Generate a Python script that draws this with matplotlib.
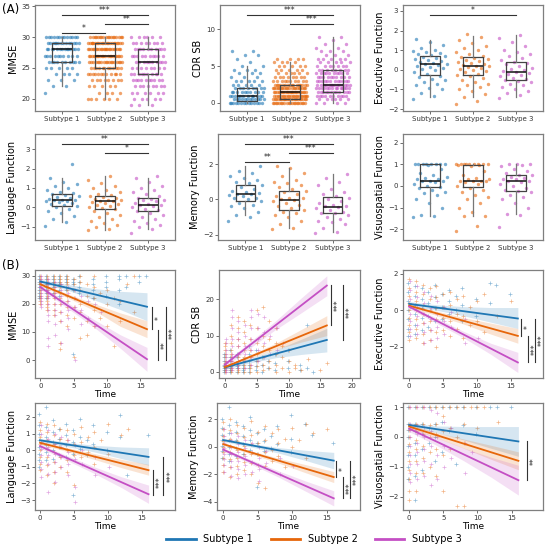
import numpy as np
import matplotlib.pyplot as plt
from matplotlib.lines import Line2D

subtypes = ["Subtype 1", "Subtype 2", "Subtype 3"]
colors = ["#1f77b4", "#e6660a", "#c44fc4"]

# ---------------- (A) baseline values ----------------
# MMSE: integer scores 19..30, number of subjects per score
mmse_levels = [19, 20, 21, 22, 23, 24, 25, 26, 27, 28, 29, 30]
mmse_counts = [
    [0, 0, 1, 2, 3, 4, 5, 10, 10, 14, 14, 13],
    [0, 6, 4, 5, 8, 12, 12, 18, 20, 22, 22, 18],
    [3, 5, 6, 8, 10, 10, 8, 10, 10, 10, 8, 6],
]
# CDR SB: half-point scores 0..9
cdr_levels = [0, 0.5, 1, 1.5, 2, 2.5, 3, 3.5, 4, 4.5, 5, 5.5, 6, 6.5, 7, 7.5, 8, 8.5, 9]
cdr_counts = [
    [14, 12, 12, 10, 8, 5, 5, 3, 3, 3, 2, 1, 1, 2, 2, 0, 0, 0, 0],
    [20, 22, 22, 22, 20, 16, 10, 8, 6, 5, 5, 4, 4, 0, 0, 0, 0, 0, 0],
    [4, 6, 10, 12, 14, 14, 12, 10, 10, 8, 7, 5, 5, 3, 3, 2, 2, 1, 2],
]
exec_a = [
    [-1.5, -1.35, -1.2, -1.0, -0.95, -0.8, -0.7, -0.6, -0.5, -0.45, -0.35, -0.3, -0.2, -0.1,
     0.0, 0.05, 0.1, 0.15, 0.2, 0.25, 0.3, 0.3, 0.35, 0.4, 0.45, 0.5, 0.55, 0.6, 0.65, 0.7,
     0.75, 0.8, 0.85, 0.9, 0.95, 1.0, 1.1, 1.25, 1.4, 1.55],
    [-1.75, -1.6, -1.4, -1.25, -1.1, -1.0, -0.9, -0.8, -0.7, -0.6, -0.5, -0.4, -0.3, -0.25,
     -0.2, -0.1, -0.05, 0.0, 0.05, 0.1, 0.15, 0.2, 0.2, 0.25, 0.3, 0.35, 0.4, 0.45, 0.5,
     0.55, 0.6, 0.65, 0.7, 0.8, 0.9, 1.0, 1.1, 1.2, 1.35, 1.5, 1.65, 1.8],
    [-1.45, -1.3, -1.2, -1.1, -1.0, -0.9, -0.8, -0.7, -0.6, -0.55, -0.5, -0.45, -0.4, -0.3,
     -0.25, -0.2, -0.15, -0.1, -0.05, 0.0, 0.05, 0.1, 0.2, 0.3, 0.35, 0.4, 0.5, 0.6, 0.7,
     0.8, 0.9, 1.0, 1.2, 1.4, 1.6, 1.75],
]
lang_a = [
    [-0.95, -0.75, -0.6, -0.45, -0.3, -0.2, -0.1, 0.0, 0.05, 0.1, 0.15, 0.2, 0.25, 0.3, 0.3,
     0.35, 0.35, 0.4, 0.45, 0.5, 0.55, 0.6, 0.65, 0.7, 0.75, 0.8, 0.9, 1.0, 1.1, 1.2, 1.3,
     1.5, 2.25],
    [-1.2, -1.15, -1.0, -0.9, -0.8, -0.7, -0.6, -0.5, -0.4, -0.3, -0.2, -0.1, -0.05, 0.0,
     0.05, 0.1, 0.15, 0.2, 0.25, 0.3, 0.3, 0.35, 0.4, 0.45, 0.5, 0.55, 0.6, 0.65, 0.7, 0.8,
     0.9, 1.0, 1.1, 1.25, 1.4, 1.6],
    [-1.35, -1.15, -1.0, -0.9, -0.8, -0.7, -0.6, -0.5, -0.4, -0.3, -0.2, -0.15, -0.1, 0.0,
     0.05, 0.1, 0.1, 0.15, 0.2, 0.3, 0.35, 0.4, 0.45, 0.5, 0.6, 0.7, 0.8, 0.9, 1.0, 1.1,
     1.3, 1.5, 1.6],
]
mem_a = [
    [-1.2, -1.0, -0.9, -0.7, -0.5, -0.4, -0.3, -0.2, -0.1, 0.0, 0.05, 0.1, 0.2, 0.25, 0.3,
     0.3, 0.35, 0.4, 0.5, 0.6, 0.7, 0.8, 0.9, 1.0, 1.1, 1.2, 1.3, 1.5, 1.6, 1.9],
    [-1.7, -1.6, -1.4, -1.2, -1.0, -0.9, -0.8, -0.7, -0.6, -0.5, -0.4, -0.3, -0.2, -0.1,
     -0.05, 0.0, 0.05, 0.1, 0.2, 0.3, 0.4, 0.5, 0.6, 0.7, 0.8, 0.9, 1.0, 1.1, 1.3, 1.5,
     1.8, 1.9],
    [-1.9, -1.85, -1.6, -1.4, -1.3, -1.2, -1.1, -1.0, -0.9, -0.8, -0.75, -0.7, -0.6, -0.5,
     -0.45, -0.4, -0.35, -0.3, -0.2, -0.1, 0.0, 0.1, 0.2, 0.3, 0.4, 0.6, 0.8, 1.0, 1.2, 1.45],
]
visuo_a = [
    [-1.45, -1.4, -1.35, -1.0, -0.8, -0.6, -0.4, -0.35, -0.3, -0.2, -0.1, -0.05, 0.0, 0.1,
     0.2, 0.25, 0.25, 0.25, 0.3, 0.3, 0.35, 0.4, 0.5, 0.6, 0.8, 0.95, 1.0, 1.0, 1.0, 1.0,
     1.0, 1.0, 1.0, 1.0],
    [-2.1, -1.85, -1.4, -1.4, -1.2, -1.0, -0.8, -0.6, -0.5, -0.4, -0.3, -0.2, -0.1, 0.0,
     0.1, 0.2, 0.25, 0.25, 0.25, 0.25, 0.3, 0.3, 0.35, 0.5, 0.7, 0.9, 0.95, 0.95, 1.0, 1.0,
     1.0, 1.0, 1.0, 1.0, 1.0, 1.0, 1.0],
    [-1.9, -1.35, -1.3, -1.0, -0.8, -0.6, -0.5, -0.4, -0.3, -0.25, -0.2, -0.1, 0.0, 0.1,
     0.2, 0.25, 0.25, 0.3, 0.3, 0.35, 0.4, 0.5, 0.5, 0.6, 0.7, 0.8, 0.9, 0.95, 1.0, 1.0, 1.0],
]

# box stats: (whisker low, q1, median, q3, whisker high)
box_mmse = [(22, 26, 28, 29, 30), (20, 25, 27, 29, 30), (19, 24, 26, 28, 30)]
box_cdr = [(0, 0.2, 1.0, 2.0, 5.0), (0, 0.5, 1.5, 2.5, 5.5), (0, 1.5, 2.5, 4.5, 9.0)]
box_exec = [(-1.4, -0.25, 0.3, 0.7, 1.5), (-1.4, -0.25, 0.2, 0.65, 1.7), (-1.4, -0.5, -0.1, 0.4, 1.75)]
box_lang = [(-0.75, 0.05, 0.35, 0.7, 1.5), (-1.2, -0.1, 0.3, 0.6, 1.6), (-1.15, -0.2, 0.1, 0.5, 1.5)]
box_mem = [(-0.9, -0.1, 0.3, 0.8, 1.9), (-1.6, -0.6, -0.05, 0.5, 1.8), (-1.85, -0.8, -0.45, 0.15, 1.45)]
box_visuo = [(-1.4, -0.05, 0.25, 1.0, 1.0), (-1.4, -0.05, 0.25, 0.95, 1.0), (-1.3, -0.25, 0.25, 0.5, 1.0)]

# significance brackets: (group i, group j, height, label)
sig_mmse = [(0, 2, 33.5, "***"), (1, 2, 32.05, "**"), (0, 1, 30.6, "*")]
sig_cdr = [(0, 2, 11.88, "***"), (1, 2, 10.67, "***")]
sig_exec = [(0, 2, 2.8, "*")]
sig_lang = [(0, 2, 3.26, "**"), (1, 2, 2.79, "*")]
sig_mem = [(0, 2, 3.11, "***"), (1, 2, 2.6, "***"), (0, 1, 2.13, "**")]
sig_visuo = []

# ---------------- (B) longitudinal values: {time: [scores]} ----------------
mmse_b = [
    {0: [30, 29, 28, 27, 26, 25, 24, 23, 22], 1: [30, 29, 28, 27, 26, 25, 24, 22],
     2: [30, 29, 28, 27, 26, 24], 3: [30, 29, 28, 27, 25, 23], 4: [30, 29, 28, 26, 25],
     5: [29, 28, 27, 25, 2], 6: [30, 28, 26, 24], 8: [29, 27, 25, 22], 10: [30, 28, 26, 23],
     12: [30, 29, 25, 20], 13: [30, 26], 15: [30, 28], 16: [30]},
    {0: [30, 29, 28, 27, 26, 25, 24, 23, 22, 21, 20], 1: [30, 29, 28, 27, 26, 25, 24, 23, 22, 21, 20, 19, 18],
     2: [30, 29, 28, 27, 26, 25, 24, 23, 22, 20, 18, 16], 3: [30, 29, 28, 27, 26, 24, 22, 20, 17, 14, 6, 4],
     4: [30, 29, 28, 27, 25, 23, 21, 19, 16, 12], 5: [29, 27, 25, 22, 19, 15, 1],
     6: [30, 28, 25, 20, 17, 8], 7: [27, 23, 14, 9], 8: [30, 26, 22, 18, 12], 9: [24, 15],
     10: [25, 20, 12], 11: [22, 5], 12: [21, 14], 13: [27], 14: [30, 17]},
    {0: [30, 29, 28, 27, 26, 25, 24, 23, 22, 21, 20, 19], 1: [29, 28, 27, 26, 25, 24, 23, 22, 20, 18, 16, 14, 8, 5],
     2: [28, 26, 24, 22, 20, 18, 16, 13, 9], 3: [27, 25, 23, 20, 17, 14, 6],
     4: [26, 24, 21, 18, 15, 11], 5: [25, 22, 19, 0], 6: [23, 18, 13], 7: [21, 15], 8: [20, 12], 9: [17]},
]
cdr_b = [
    {0: [0, 0.5, 1, 1.5, 2, 3, 4, 5], 1: [0, 0.5, 1, 2, 3, 4, 6], 2: [0, 1, 1.5, 2.5, 4, 5],
     3: [0, 0.5, 1, 2, 3.5], 4: [0, 1, 2, 3, 5, 7], 5: [0.5, 1.5, 3, 6], 6: [0, 2, 4],
     7: [1, 3], 8: [0.5, 2.5, 5], 10: [1, 3, 6], 12: [0.5, 2], 13: [13, 1], 14: [0]},
    {0: [0, 0.5, 1, 1.5, 2, 2.5, 3, 4, 5, 6, 7, 8], 1: [0, 0.5, 1, 1.5, 2, 3, 4, 5, 6, 8, 10, 13],
     2: [0, 0.5, 1, 2, 3, 4, 5, 7, 9, 12, 15], 3: [0, 1, 2, 3, 4, 6, 8, 11, 14],
     4: [0, 1, 2, 4, 6, 9, 13], 5: [0, 1.5, 3, 5, 8, 12, 17], 6: [0.5, 2, 4, 7, 10, 18],
     7: [1, 3, 6, 9, 14], 8: [0, 2, 5, 8, 12], 9: [1, 4, 7], 10: [0, 3, 6], 11: [1, 2],
     12: [0.5], 13: [3.5], 15: [0.5], 16: [2.5]},
    {0: [0, 0.5, 1, 1.5, 2, 2.5, 3, 4, 5, 6, 8, 9], 1: [0.5, 1, 2, 3, 4, 5, 7, 9, 12, 15, 17],
     2: [1, 2, 3, 5, 7, 9, 11, 14], 3: [1, 3, 5, 7, 10, 13], 4: [2, 4, 6, 9, 12, 15, 17],
     5: [3, 6, 9, 12, 16], 6: [4, 8, 11, 15], 7: [5, 10], 8: [6, 12], 9: [8]},
]
exec_b = [
    {0: [1.5, 1.0, 0.5, 0.0, -0.5, -1.0, -1.4], 1: [1.3, 0.8, 0.3, -0.2, -0.8, -1.3],
     2: [1.2, 0.6, 0.1, -0.4, -1.1], 3: [1.0, 0.4, -0.3, -0.9], 4: [1.4, 0.7, 0.1, -0.6],
     5: [0.9, 0.2, -0.5], 6: [1.1, 0.5, -0.2], 7: [0.8, 0.0], 8: [1.2, 0.3, -0.6],
     10: [0.6, -0.3], 12: [1.5, 0.4], 13: [1.4], 15: [0.9]},
    {0: [1.7, 1.2, 0.8, 0.4, 0.0, -0.4, -0.8, -1.2, -1.6], 1: [1.6, 1.0, 0.5, 0.0, -0.5, -1.0, -1.5],
     2: [1.4, 0.9, 0.3, -0.2, -0.7, -1.3, -1.8], 3: [1.2, 0.6, 0.0, -0.6, -1.1, -1.6],
     4: [1.3, 0.7, 0.1, -0.5, -1.2, -2.0], 5: [0.9, 0.2, -0.4, -1.1], 6: [1.0, 0.3, -0.6, -1.4],
     7: [0.6, -0.2, -1.0], 8: [0.8, -0.3, -1.5], 9: [0.2, -0.8], 10: [0.5, -0.6],
     11: [0.9, -1.2], 13: [-0.3], 15: [0.5]},
    {0: [1.6, 1.1, 0.6, 0.2, -0.2, -0.6, -1.0, -1.4], 1: [1.3, 0.7, 0.2, -0.3, -0.8, -1.3],
     2: [1.0, 0.4, -0.2, -0.7, -1.2, -1.8], 3: [0.8, 0.1, -0.5, -1.1, -1.6],
     4: [0.5, -0.2, -0.9, -1.5], 5: [0.2, -0.6, -1.3], 6: [-0.1, -0.9], 8: [-0.5, -1.8], 10: [-1.5]},
]
lang_b = [
    {0: [2.2, 1.5, 1.0, 0.6, 0.2, -0.2, -0.6, -1.0], 1: [2.6, 1.4, 0.8, 0.3, -0.1, -0.6],
     2: [1.8, 1.1, 0.5, 0.0, -0.5], 3: [1.3, 0.7, 0.2, -0.3], 4: [1.6, 0.9, 0.3, -0.4],
     5: [1.2, 0.5, -0.2, -2.7], 6: [1.9, 0.8, 0.1], 7: [0.6, -0.3], 8: [1.5, 0.4],
     10: [1.1, 0.0], 12: [2.1, 0.8], 13: [-1.5], 16: [0.9]},
    {0: [1.7, 1.2, 0.8, 0.4, 0.0, -0.4, -0.8, -1.2], 1: [1.6, 1.1, 0.6, 0.1, -0.4, -0.9, -1.5],
     2: [1.5, 0.9, 0.4, -0.1, -0.7, -1.3, -2.0], 3: [1.3, 0.7, 0.2, -0.4, -1.0],
     4: [1.2, 0.6, 0.0, -0.6, -1.3], 5: [1.0, 0.4, -0.3, -2.1], 6: [1.4, 0.5, -0.4],
     7: [0.8, -0.1], 8: [1.1, 0.2, -0.8], 9: [0.6], 10: [1.6, -0.2], 12: [0.9], 13: [1.3]},
    {0: [1.5, 1.0, 0.5, 0.1, -0.3, -0.7, -1.1, -1.6], 1: [1.2, 0.7, 0.2, -0.3, -0.8, -1.4, -2.5],
     2: [1.0, 0.4, -0.2, -0.7, -1.3, -1.9], 3: [0.8, 0.2, -0.4, -1.0], 4: [0.6, -0.1, -0.8, -1.5],
     5: [0.3, -0.5, -3.1, -2.2], 6: [0.0, -0.8], 8: [-0.4, -1.5], 10: [-1.0]},
]
mem_b = [
    {0: [2.0, 1.4, 0.9, 0.5, 0.1, -0.3, -0.8], 1: [2.9, 1.6, 1.0, 0.5, 0.0, -0.5, -1.0],
     2: [1.8, 1.1, 0.5, -0.1, -0.7], 3: [1.5, 0.8, 0.2, -0.5], 4: [2.2, 1.2, 0.5, -0.2],
     5: [1.0, 0.3, -0.5, -2.9], 6: [1.3, 0.4, -0.3], 7: [0.8, -0.1], 8: [1.5, 0.2],
     10: [2.3, 0.6, -0.4], 12: [1.7], 13: [0.9], 16: [0.3]},
    {0: [1.8, 1.3, 0.8, 0.4, 0.0, -0.4, -0.8, -1.3, -1.8], 1: [2.0, 1.2, 0.6, 0.1, -0.4, -0.9, -1.5, -2.2],
     2: [1.6, 1.0, 0.4, -0.2, -0.8, -1.4, -2.0], 3: [1.4, 0.7, 0.1, -0.5, -1.1, -1.7],
     4: [1.9, 0.9, 0.2, -0.5, -1.2, -2.0], 5: [1.1, 0.3, -0.5, -1.3, -2.6],
     6: [1.5, 0.5, -0.4, -1.4, -3.0], 7: [1.0, -0.2, -1.0], 8: [1.3, 0.3, -0.7], 9: [0.6, -1.5],
     10: [1.4, 0.0], 11: [0.5], 12: [1.7, -0.8], 13: [1.0], 15: [1.3]},
    {0: [1.3, 0.8, 0.3, -0.1, -0.5, -0.9, -1.3, -1.8], 1: [1.0, 0.5, 0.0, -0.5, -1.0, -1.5, -2.1],
     2: [0.8, 0.2, -0.4, -1.0, -1.6, -2.3], 3: [0.5, -0.1, -0.7, -1.3, -2.0],
     4: [0.3, -0.4, -1.1, -1.8], 5: [0.0, -0.8, -1.6, -2.5], 6: [-0.3, -1.2], 8: [-0.8, -2.0], 10: [-1.4]},
]
visuo_b = [
    {0: [1.0, 0.45, 0.25, 0.0, -0.3, -0.6, -1.0, -1.4], 1: [1.0, 0.45, 0.2, -0.2, -0.6, -1.3, -2.1],
     2: [1.0, 0.45, 0.1, -0.4, -1.1], 3: [1.0, 0.3, -0.2], 4: [1.0, 0.45, 0.0, -0.8],
     5: [1.0, 0.5, -0.5], 6: [1.0, 0.2], 7: [1.0, -0.9], 8: [1.0, 0.4], 10: [1.0, 0.1],
     12: [1.0], 13: [1.0], 15: [1.0]},
    {0: [1.0, 0.45, 0.25, 0.0, -0.25, -0.5, -0.8, -1.1, -1.4, -1.8, -2.1],
     1: [1.0, 0.45, 0.2, -0.1, -0.4, -0.8, -1.2, -1.8], 2: [1.0, 0.45, 0.1, -0.3, -0.7, -1.2],
     3: [1.0, 0.4, 0.0, -0.5, -1.0], 4: [1.0, 0.45, 0.1, -0.4, -1.3], 5: [1.0, 0.7, 0.2, -0.6, -1.8],
     6: [1.0, 0.3, -0.4], 7: [1.0, 0.0, -2.3], 8: [1.0, 0.45, -0.2, -2.3], 9: [1.0],
     10: [1.0, 0.3], 11: [1.0], 13: [0.5]},
    {0: [1.0, 0.45, 0.25, 0.0, -0.3, -0.6, -0.9, -1.2, -1.5], 1: [1.0, 0.4, 0.1, -0.2, -0.5, -0.9, -1.4],
     2: [1.0, 0.35, 0.0, -0.4, -0.8, -1.3], 3: [0.9, 0.2, -0.3, -0.9, -1.6],
     4: [0.8, 0.0, -0.6, -1.4], 5: [0.5, -0.3, -1.0], 6: [0.3, -0.7], 8: [-0.2, -1.2], 9: [-0.5]},
]

# fitted lines (value at time 0 and at time 16) and 95% CI read at ci_times
fit_end_time = 16
ci_times = [0, 2, 4, 8, 12, 16]
fit_mmse = [(28, 19), (27, 11), (26, 0.3)]
ci_mmse = [([27.2, 26.2, 25.0, 21.5, 18.0, 14.0], [28.8, 27.8, 27.0, 25.5, 24.5, 24.0]),
           ([26.4, 24.4, 22.3, 17.8, 12.0, 8.0], [27.6, 25.6, 23.7, 20.2, 16.8, 14.0]),
           ([25.3, 22.0, 18.6, 11.8, 4.2, -4.0], [26.7, 23.6, 20.6, 14.5, 9.0, 4.5])]
fit_cdr = [(1.2, 8.8), (1.3, 12.8), (2.0, 23.8)]
ci_cdr = [([0.6, 1.6, 2.5, 3.9, 4.8, 5.5], [1.8, 2.7, 3.7, 6.1, 9.0, 12.0]),
          ([0.9, 2.3, 3.7, 6.2, 8.2, 10.0], [1.7, 3.2, 4.7, 7.9, 11.7, 15.5]),
          ([1.3, 4.0, 6.6, 11.7, 16.3, 21.0], [2.7, 5.5, 8.3, 14.1, 20.4, 26.5])]
fit_exec = [(0.35, -0.45), (0.25, -1.4), (0.2, -2.85)]
ci_exec = [([0.22, 0.12, 0.0, -0.3, -0.65, -1.0], [0.48, 0.38, 0.3, 0.2, 0.15, 0.15]),
           ([0.15, -0.06, -0.28, -0.75, -1.3, -1.8], [0.35, 0.14, -0.04, -0.4, -0.7, -1.0]),
           ([0.08, -0.3, -0.7, -1.5, -2.4, -3.4], [0.32, -0.06, -0.42, -1.15, -1.8, -2.3])]
fit_lang = [(0.6, -0.4), (0.45, -1.2), (0.25, -2.65)]
ci_lang = [([0.48, 0.36, 0.22, -0.1, -0.5, -0.9], [0.72, 0.6, 0.48, 0.3, 0.2, 0.15]),
           ([0.35, 0.14, -0.08, -0.55, -1.05, -1.5], [0.55, 0.34, 0.16, -0.2, -0.55, -0.85]),
           ([0.12, -0.24, -0.62, -1.4, -2.25, -3.2], [0.38, 0.02, -0.33, -1.0, -1.6, -2.1])]
fit_mem = [(0.5, -1.0), (0.2, -2.2), (-0.2, -3.75)]
ci_mem = [([0.38, 0.2, 0.0, -0.45, -1.0, -1.6], [0.62, 0.43, 0.25, -0.05, -0.25, -0.4]),
          ([0.1, -0.2, -0.52, -1.18, -1.9, -2.6], [0.3, 0.0, -0.28, -0.82, -1.3, -1.8]),
          ([-0.32, -0.77, -1.25, -2.2, -3.25, -4.3], [-0.08, -0.51, -0.93, -1.75, -2.5, -3.2])]
fit_visuo = [(0.4, -0.15), (0.35, -0.8), (0.28, -1.45)]
ci_visuo = [([0.32, 0.24, 0.15, -0.1, -0.38, -0.65], [0.48, 0.42, 0.37, 0.35, 0.35, 0.35]),
            ([0.28, 0.13, -0.03, -0.38, -0.75, -1.1], [0.42, 0.29, 0.15, -0.07, -0.28, -0.5]),
            ([0.18, -0.05, -0.28, -0.8, -1.35, -1.95], [0.38, 0.17, -0.02, -0.37, -0.68, -0.95])]

# vertical significance bars: (x, y top, y bottom, label)
vsig_mmse = [(16.8, 18.8, 10.9, "*"), (17.7, 10.6, 0.0, "**"), (18.9, 18.8, 0.0, "***")]
vsig_cdr = [(16.7, 23.9, 12.9, "***"), (18.5, 23.9, 8.8, "***")]
vsig_exec = [(16.5, -0.45, -1.4, "*"), (17.5, -1.4, -2.85, "***"), (18.5, -0.45, -2.85, "***")]
vsig_lang = [(16.6, -1.2, -2.7, "***"), (18.2, -0.42, -2.7, "***")]
vsig_mem = [(16.3, -1.0, -2.2, "*"), (17.3, -2.2, -3.75, "***"), (18.4, -1.0, -3.75, "***")]
vsig_visuo = [(17.3, -0.15, -1.45, "**")]

# ---------------- drawing ----------------
fig = plt.figure(figsize=(5.46, 5.47), dpi=100)
W, H = 546, 547


def px_axes(left, top, right, bottom):
    return fig.add_axes([left / W, 1 - bottom / H, (right - left) / W, (bottom - top) / H])


def style(ax):
    for s in ax.spines.values():
        s.set_color("#7f7f7f")
        s.set_linewidth(0.9)
    ax.tick_params(labelsize=5, length=2, width=0.6, color="#555", labelcolor="#333", pad=1.5)


def box_panel(ax, values, boxes, sigs, ylabel, ylim, yticks):
    for k in range(3):
        v = np.asarray(values[k], dtype=float)
        jit = ((np.arange(len(v)) * 0.618034) % 1 - 0.5) * 0.8
        ax.scatter(k + jit, v, s=6, color=colors[k], alpha=0.6, lw=0, zorder=1)
    stats = [dict(whislo=b[0], q1=b[1], med=b[2], q3=b[3], whishi=b[4], fliers=[]) for b in boxes]
    ax.bxp(stats, positions=[0, 1, 2], widths=0.45, showfliers=False, showcaps=False,
           boxprops=dict(color="#444", lw=0.9), whiskerprops=dict(color="#777", lw=0.9),
           medianprops=dict(color="#111", lw=1.1), manage_ticks=False, zorder=3)
    for i, j, y, txt in sigs:
        ax.plot([i, j], [y, y], color="#333", lw=0.8)
        ax.text((i + j) / 2, y, txt, ha="center", va="bottom", fontsize=5.5, color="#222")
    ax.set_xlim(-0.63, 2.63)
    ax.set_ylim(*ylim)
    ax.set_yticks(yticks)
    ax.set_xticks([0, 1, 2])
    ax.set_xticklabels(subtypes)
    ax.set_ylabel(ylabel, fontsize=7, labelpad=2)
    style(ax)


def flatten(d):
    t = [k for k, vals in d.items() for _ in vals]
    y = [v for vals in d.values() for v in vals]
    return np.array(t, dtype=float), np.array(y, dtype=float)


def line_panel(ax, data, fits, cis, vsigs, ylabel, xlim, ylim, xticks, yticks):
    shifts = [-0.15, 0.0, 0.15]
    for k in range(3):
        t, y = flatten(data[k])
        ax.scatter(t + shifts[k], y, s=7, marker="+", color=colors[k], alpha=0.5, lw=0.5, zorder=1)
    for k in range(3):
        lo, hi = cis[k]
        ax.fill_between(ci_times, lo, hi, color=colors[k], alpha=0.18, lw=0, zorder=2)
    for k in range(3):
        ax.plot([0, fit_end_time], fits[k], color=colors[k], lw=1.3, zorder=3)
    xr = xlim[1] - xlim[0]
    for x, y1, y2, txt in vsigs:
        ax.plot([x, x], [y1, y2], color="#333", lw=0.8)
        ax.text(x + 0.02 * xr, (y1 + y2) / 2, txt, rotation=90, ha="left", va="center",
                fontsize=5.5, color="#222")
    ax.set_xlim(*xlim)
    ax.set_ylim(*ylim)
    ax.set_xticks(xticks)
    ax.set_yticks(yticks)
    ax.set_xlabel("Time", fontsize=6.5, labelpad=0.5)
    ax.set_ylabel(ylabel, fontsize=7, labelpad=2)
    style(ax)


mmse_vals = [np.repeat(mmse_levels, c) for c in mmse_counts]
cdr_vals = [np.repeat(cdr_levels, c) for c in cdr_counts]

a_axes = [px_axes(35, 5, 175, 111), px_axes(220, 5, 360, 111), px_axes(403, 5, 543, 111),
          px_axes(35, 134, 175, 240), px_axes(218, 134, 360, 240), px_axes(403, 134, 543, 240)]
box_panel(a_axes[0], mmse_vals, box_mmse, sig_mmse, "MMSE", (18, 35.2), [20, 25, 30, 35])
box_panel(a_axes[1], cdr_vals, box_cdr, sig_cdr, "CDR SB", (-1.1, 13.3), [0, 5, 10])
box_panel(a_axes[2], exec_a, box_exec, sig_exec, "Executive Function", (-2.1, 3.3), [-2, -1, 0, 1, 2, 3])
box_panel(a_axes[3], lang_a, box_lang, sig_lang, "Language Function", (-1.7, 3.8), [-1, 0, 1, 2, 3])
box_panel(a_axes[4], mem_a, box_mem, sig_mem, "Memory Function", (-2.3, 3.7), [-2, 0, 2])
box_panel(a_axes[5], visuo_a, box_visuo, sig_visuo, "Visuospatial Function", (-2.5, 2.4), [-2, -1, 0, 1, 2])

b_axes = [px_axes(35, 270, 175, 378), px_axes(219, 270, 360, 378), px_axes(403, 270, 543, 378),
          px_axes(35, 403, 175, 510), px_axes(217, 403, 360, 510), px_axes(403, 403, 543, 510)]
tk = [0, 5, 10, 15]
line_panel(b_axes[0], mmse_b, fit_mmse, ci_mmse, vsig_mmse, "MMSE", (-0.8, 20.2), (-6.4, 32.1), tk, [0, 10, 20, 30])
line_panel(b_axes[1], cdr_b, fit_cdr, ci_cdr, vsig_cdr, "CDR SB", (-0.9, 21.2), (-1.7, 28.1), [0, 5, 10, 15, 20], [0, 10, 20])
line_panel(b_axes[2], exec_b, fit_exec, ci_exec, vsig_exec, "Executive Function", (-0.9, 19.7), (-3.7, 2.2), tk, [-2, 0, 2])
line_panel(b_axes[3], lang_b, fit_lang, ci_lang, vsig_lang, "Language Function", (-0.75, 19.9), (-3.6, 2.85), tk, [-3, -2, -1, 0, 1, 2])
line_panel(b_axes[4], mem_b, fit_mem, ci_mem, vsig_mem, "Memory Function", (-0.9, 19.8), (-4.6, 3.2), tk, [-4, -2, 0, 2])
line_panel(b_axes[5], visuo_b, fit_visuo, ci_visuo, vsig_visuo, "Visuospatial Function", (-0.9, 19.6), (-2.45, 1.14), tk, [-2, -1, 0, 1])

fig.text(2 / W, 1 - 9 / H, "(A)", fontsize=8.5, va="center", ha="left")
fig.text(2 / W, 1 - 266 / H, "(B)", fontsize=8.5, va="center", ha="left")

handles = [Line2D([], [], color=c, lw=2) for c in colors]
fig.legend(handles, subtypes, loc="center", ncol=3, frameon=False, fontsize=7,
           bbox_to_anchor=(314 / W, 8 / H), handlelength=3, columnspacing=1.8,
           borderpad=0, borderaxespad=0)

fig.savefig("out.png", dpi=100)
